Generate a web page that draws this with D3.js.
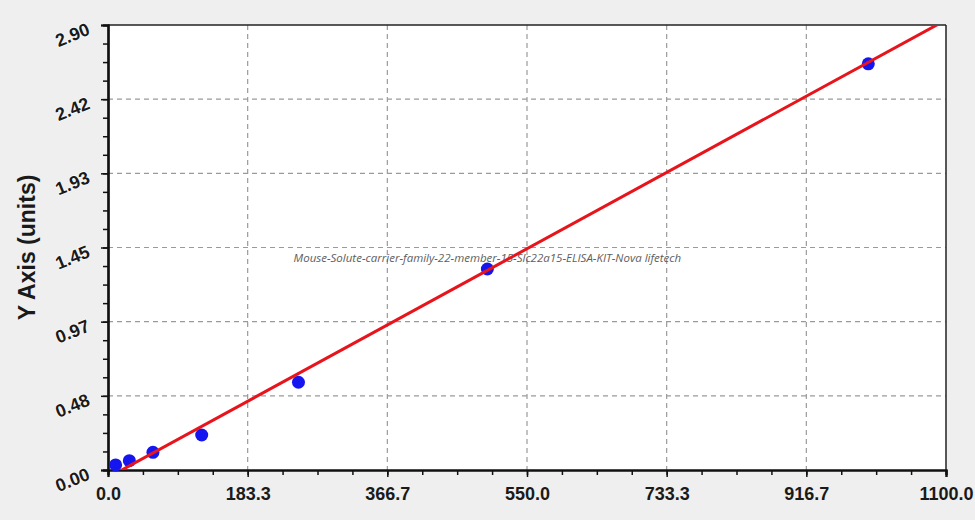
<!DOCTYPE html>
<html lang="en">
<head>
  <meta charset="UTF-8">
  <title>Standard Curve</title>
  <script src="https://d3js.org/d3.v7.min.js"></script>
  <style>
    html, body {
      margin: 0;
      padding: 0;
      background-color: #efefef;
    }
    svg {
      display: block;
    }
    .tick-label {
      font-family: "Liberation Sans", Arial, sans-serif;
      font-weight: bold;
      font-size: 18px;
      fill: #1a1a1a;
    }
  </style>
</head>
<body>
  <div id="chart"></div>

  <script>
    // values
    const concentration = [10, 28, 59, 123, 250, 498, 998];
    const absorbance = [0.033, 0.061, 0.115, 0.228, 0.572, 1.31, 2.647];

    // fitted line end points
    const fitX = [0, 1100];
    const fitY = [-0.049, 2.933];

    const xTickLabels = ["0.0", "183.3", "366.7", "550.0", "733.3", "916.7", "1100.0"];
    const yTickLabels = ["0.00", "0.48", "0.97", "1.45", "1.93", "2.42", "2.90"];
    const xMax = 1100;
    const yMax = 2.9;

    const watermark = "Mouse-Solute-carrier-family-22-member-15-Slc22a15-ELISA-KIT-Nova lifetech";

    const width = 975;
    const height = 520;
    const margin = {top: 25, right: 29, bottom: 50, left: 108};
    const innerW = width - margin.left - margin.right;
    const innerH = height - margin.top - margin.bottom;

    const svg = d3.select("#chart")
      .append("svg")
      .attr("width", width)
      .attr("height", height);

    const g = svg.append("g")
      .attr("transform", `translate(${margin.left},${margin.top})`);

    const x = d3.scaleLinear().domain([0, xMax]).range([0, innerW]);
    const y = d3.scaleLinear().domain([0, yMax]).range([innerH, 0]);

    const xMajor = xTickLabels.map((d, i) => i * xMax / (xTickLabels.length - 1));
    const yMajor = yTickLabels.map((d, i) => i * yMax / (yTickLabels.length - 1));
    const xMinor = d3.range(0, 25).map(i => i * xMax / 24);
    const yMinor = d3.range(0, 25).map(i => i * yMax / 24);

    // plot background
    g.append("rect")
      .attr("width", innerW)
      .attr("height", innerH)
      .attr("fill", "white");

    // dashed grid
    g.selectAll(".vgrid")
      .data(xMajor.slice(1, -1))
      .join("line")
      .attr("x1", d => x(d)).attr("x2", d => x(d))
      .attr("y1", 0).attr("y2", innerH)
      .attr("stroke", "#9a9a9a")
      .attr("stroke-width", 1.2)
      .attr("stroke-dasharray", "5,4");

    g.selectAll(".hgrid")
      .data(yMajor.slice(1, -1))
      .join("line")
      .attr("y1", d => y(d)).attr("y2", d => y(d))
      .attr("x1", 0).attr("x2", innerW)
      .attr("stroke", "#9a9a9a")
      .attr("stroke-width", 1.2)
      .attr("stroke-dasharray", "5,4");

    // frame (top and right)
    g.append("line")
      .attr("x1", 0).attr("x2", innerW).attr("y1", 0).attr("y2", 0)
      .attr("stroke", "#222").attr("stroke-width", 1.5);
    g.append("line")
      .attr("x1", innerW).attr("x2", innerW).attr("y1", 0).attr("y2", innerH)
      .attr("stroke", "#222").attr("stroke-width", 1.5);

    // axes with minor ticks
    const xAxisMinor = d3.axisBottom(x).tickValues(xMinor).tickSize(5).tickFormat("");
    const xAxisMajor = d3.axisBottom(x).tickValues(xMajor).tickSize(7).tickFormat((d, i) => xTickLabels[i]).tickPadding(9);
    const yAxisMinor = d3.axisLeft(y).tickValues(yMinor).tickSize(5).tickFormat("");
    const yAxisMajor = d3.axisLeft(y).tickValues(yMajor).tickSize(7).tickFormat("");

    function styleAxis(sel) {
      sel.select(".domain").attr("stroke", "#111").attr("stroke-width", 2.2);
      sel.selectAll(".tick line").attr("stroke", "#111").attr("stroke-width", 1.5);
    }

    g.append("g").attr("transform", `translate(0,${innerH})`).call(xAxisMinor).call(styleAxis);
    const gx = g.append("g").attr("transform", `translate(0,${innerH})`).call(xAxisMajor).call(styleAxis);
    gx.selectAll(".tick text")
      .attr("class", "tick-label")
      .attr("dy", "0.8em");

    g.append("g").call(yAxisMinor).call(styleAxis);
    g.append("g").call(yAxisMajor).call(styleAxis);

    // rotated y tick labels
    g.selectAll(".ylab")
      .data(yMajor)
      .join("text")
      .attr("class", "tick-label")
      .attr("text-anchor", "end")
      .attr("transform", d => `translate(-17,${y(d) + 9}) rotate(-22)`)
      .style("paint-order", "stroke")
      .style("stroke", "#fafafa")
      .style("stroke-width", 1.5)
      .text((d, i) => yTickLabels[i]);

    // y axis title
    svg.append("text")
      .attr("transform", `translate(35,${margin.top + innerH / 2}) rotate(-90)`)
      .attr("text-anchor", "middle")
      .style("font-family", "\"Liberation Sans\", Arial, sans-serif")
      .style("font-weight", "bold")
      .style("font-size", "23px")
      .style("fill", "#1a1a1a")
      .text("Y Axis (units)");

    // watermark
    g.append("text")
      .attr("x", x(498))
      .attr("y", y(1.45) + 14)
      .attr("text-anchor", "middle")
      .style("font-family", "\"Open Sans\", sans-serif")
      .style("font-style", "italic")
      .style("font-size", "11.5px")
      .style("fill", "#5e5e5e")
      .text(watermark);

    // clip for fit line
    svg.append("defs").append("clipPath").attr("id", "plot-clip")
      .append("rect").attr("width", innerW).attr("height", innerH);

    const points = concentration.map((c, i) => ({x: c, y: absorbance[i]}));

    g.selectAll(".pt")
      .data(points)
      .join("circle")
      .attr("cx", d => x(d.x))
      .attr("cy", d => y(d.y))
      .attr("r", 6.5)
      .attr("fill", "#1515f0");

    const line = d3.line()
      .x(d => x(d[0]))
      .y(d => y(d[1]));

    g.append("path")
      .datum(fitX.map((d, i) => [d, fitY[i]]))
      .attr("clip-path", "url(#plot-clip)")
      .attr("fill", "none")
      .attr("stroke", "#e8141c")
      .attr("stroke-width", 3)
      .attr("d", line);
  </script>
</body>
</html>
